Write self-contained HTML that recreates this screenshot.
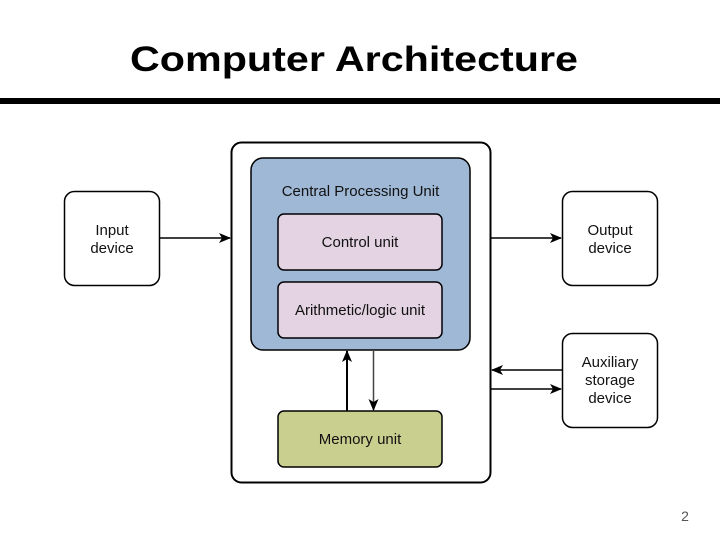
<!DOCTYPE html>
<html><head><meta charset="utf-8"><style>
html,body{margin:0;padding:0;background:#fff;}
svg{display:block;}
text{font-family:"Liberation Sans",Arial,sans-serif;}
</style></head><body>
<svg width="720" height="540" viewBox="0 0 720 540" xmlns="http://www.w3.org/2000/svg">
<defs>
<marker id="ah" markerWidth="12" markerHeight="10" refX="11" refY="5" orient="auto" markerUnits="userSpaceOnUse">
<path d="M0,0 L12,5 L0,10 L3,5 Z" fill="#000"/>
</marker>
</defs>
<text x="354" y="71" font-size="35" font-weight="bold" text-anchor="middle" textLength="448" lengthAdjust="spacingAndGlyphs">Computer Architecture</text>
<rect x="0" y="98" width="720" height="6" fill="#000"/>

<rect x="231.5" y="142.5" width="259" height="340" rx="10" fill="#fff" stroke="#000" stroke-width="2"/>
<rect x="251" y="158" width="219" height="192" rx="12" fill="#9fb8d6" stroke="#000" stroke-width="1.5"/>
<text x="360.5" y="196" font-size="15" text-anchor="middle" fill="#111">Central Processing Unit</text>
<rect x="278" y="214" width="164" height="56" rx="6" fill="#e3d3e3" stroke="#000" stroke-width="1.5"/>
<text x="360" y="247" font-size="15" text-anchor="middle" fill="#111">Control unit</text>
<rect x="278" y="282" width="164" height="56" rx="6" fill="#e3d3e3" stroke="#000" stroke-width="1.5"/>
<text x="360" y="315" font-size="15" text-anchor="middle" fill="#111">Arithmetic/logic unit</text>
<rect x="278" y="411" width="164" height="56" rx="6" fill="#c9cf8f" stroke="#000" stroke-width="1.5"/>
<text x="360" y="444" font-size="15" text-anchor="middle" fill="#111">Memory unit</text>

<rect x="64.5" y="191.5" width="95" height="94" rx="10" fill="#fff" stroke="#000" stroke-width="1.5"/>
<text x="112" y="235" font-size="15" text-anchor="middle" fill="#111">Input</text>
<text x="112" y="253" font-size="15" text-anchor="middle" fill="#111">device</text>
<rect x="562.5" y="191.5" width="95" height="94" rx="10" fill="#fff" stroke="#000" stroke-width="1.5"/>
<text x="610" y="235" font-size="15" text-anchor="middle" fill="#111">Output</text>
<text x="610" y="253" font-size="15" text-anchor="middle" fill="#111">device</text>
<rect x="562.5" y="333.5" width="95" height="94" rx="10" fill="#fff" stroke="#000" stroke-width="1.5"/>
<text x="610" y="367" font-size="15" text-anchor="middle" fill="#111">Auxiliary</text>
<text x="610" y="385" font-size="15" text-anchor="middle" fill="#111">storage</text>
<text x="610" y="403" font-size="15" text-anchor="middle" fill="#111">device</text>

<line x1="159" y1="238" x2="230" y2="238" stroke="#000" stroke-width="1.5" marker-end="url(#ah)"/>
<line x1="491" y1="238" x2="561" y2="238" stroke="#000" stroke-width="1.5" marker-end="url(#ah)"/>
<line x1="562" y1="370" x2="492" y2="370" stroke="#000" stroke-width="1.5" marker-end="url(#ah)"/>
<line x1="491" y1="389" x2="561" y2="389" stroke="#000" stroke-width="1.5" marker-end="url(#ah)"/>
<line x1="347" y1="411" x2="347" y2="351" stroke="#000" stroke-width="2" marker-end="url(#ah)"/>
<line x1="373.5" y1="350" x2="373.5" y2="410" stroke="#444" stroke-width="1.5" marker-end="url(#ah)"/>

<text x="685" y="521" font-size="14" text-anchor="middle" fill="#555">2</text>
</svg>
</body></html>
